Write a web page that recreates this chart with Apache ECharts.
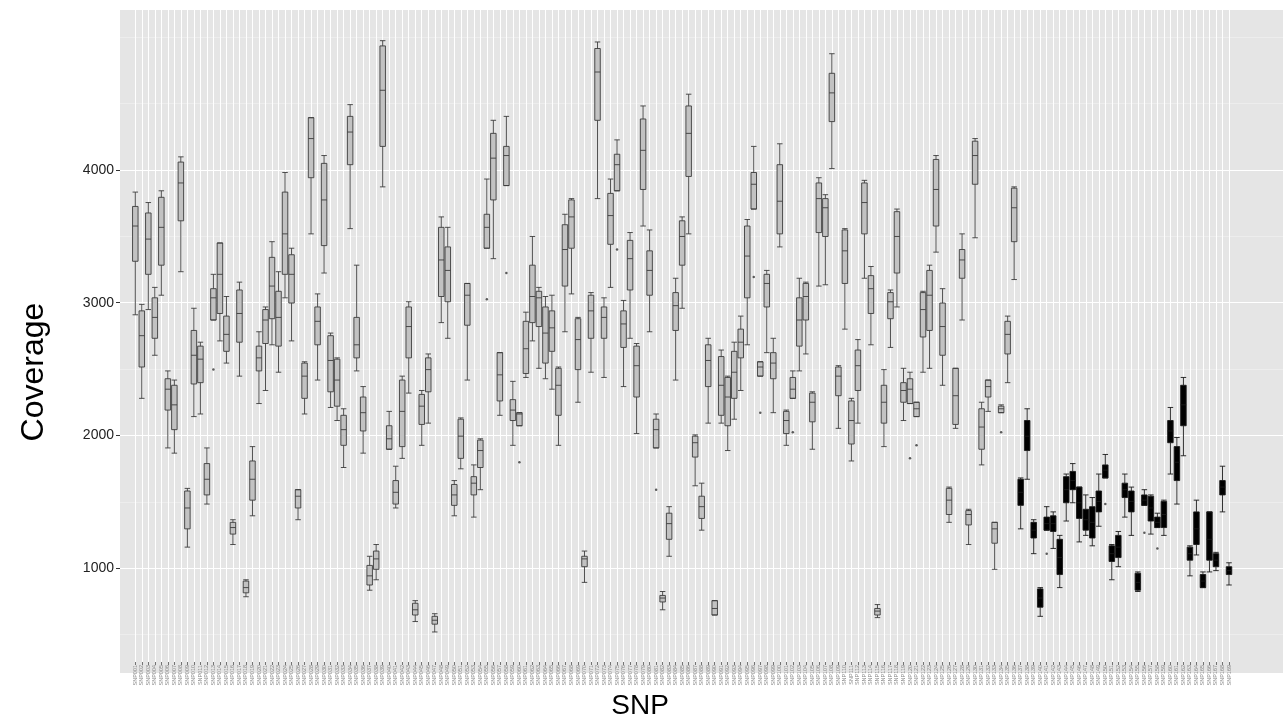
<!DOCTYPE html>
<html>
<head>
<meta charset="utf-8">
<title>Coverage per SNP</title>
<script src="https://cdn.jsdelivr.net/npm/echarts@6/dist/echarts.min.js"></script>
<style>
  html, body { margin: 0; padding: 0; background: #ffffff; }
  #chart { width: 1283px; height: 725px; }
</style>
</head>
<body>
<div id="chart"></div>
<script>
// tick labels under the x axis are unreadable in the source, so plain ids are used
const CATS = [];
for (let i = 1; i <= 169; i++) CATS.push("SNP" + String(i).padStart(3, "0"));

// five-number summary per SNP (whisker low, Q1, median, Q3, whisker high)
const LOW = [
  2870, 2230, 2910, 2560, 3020, 1850, 1810, 3200, 1090, 2090,
  2110, 1420, 2830, 2670, 2500, 1110, 2400, 710, 1330, 2190,
  2290, 2640, 2430, 3000, 2670, 1300, 2110, 3490, 2370, 3190,
  2160, 2060, 1700, 3530, 2440, 1810, 760, 840, 3850, 1840,
  1390, 1770, 2270, 520, 1870, 2040, 440, 2810, 2690, 1330,
  1690, 2370, 1320, 1530, 3380, 3300, 2100, 3860, 1870, 2020,
  2390, 2670, 2460, 2380, 2300, 1870, 2740, 3030, 2200, 820,
  2430, 3760, 2390, 3080, 3820, 2320, 2690, 1960, 3550, 2740,
  1850, 610, 1020, 2370, 2920, 3490, 1560, 1220, 2040, 570,
  2040, 1830, 2070, 2290, 2640, 3680, 2400, 2580, 2120, 3390,
  1870, 2230, 2440, 2570, 1840, 3090, 3100, 3990, 2000, 2760,
  1750, 2040, 3150, 2640, 550, 1860, 2620, 2930, 2060, 2190,
  2090, 2430, 2460, 3350, 2330, 1280, 2000, 2830, 1110, 3460,
  1720, 2130, 920, 2120, 2350, 3140, 1230, 1610, 1040, 560,
  1220, 1080, 780, 1290, 1430, 1130, 1180, 1100, 1250, 1620,
  840, 940, 1320, 1180, 750, 1410, 1190, 1240, 1180, 1650,
  1420, 1790, 870, 1030, 780, 900, 910, 1360, 800
];
const Q1 = [
  3280, 2470, 3180, 2690, 3250, 2140, 1990, 3590, 1230, 2340,
  2350, 1490, 2830, 2880, 2590, 1190, 2660, 740, 1450, 2440,
  2650, 2840, 2630, 3180, 2960, 1390, 2230, 3920, 2640, 3400,
  2280, 2170, 1870, 4020, 2540, 1980, 800, 920, 4160, 1840,
  1420, 1860, 2540, 570, 2030, 2280, 500, 3010, 2970, 1410,
  1770, 2790, 1490, 1700, 3380, 3750, 2210, 3860, 2060, 2020,
  2420, 2810, 2780, 2500, 2590, 2100, 3090, 3380, 2450, 940,
  2690, 4360, 2690, 3410, 3820, 2620, 3060, 2240, 3830, 3020,
  1850, 670, 1150, 2750, 3250, 3930, 1780, 1310, 2320, 570,
  2100, 2020, 2230, 2540, 3000, 3680, 2400, 2930, 2380, 3490,
  1960, 2230, 2630, 2830, 2050, 3500, 3470, 4350, 2250, 3110,
  1880, 2290, 3490, 2880, 570, 2040, 2840, 3190, 2200, 2190,
  2090, 2700, 2750, 3550, 2560, 1340, 2030, 3150, 1260, 3870,
  1840, 2240, 1120, 2120, 2570, 3430, 1410, 1830, 1160, 630,
  1220, 1210, 880, 1430, 1530, 1310, 1220, 1160, 1360, 1620,
  980, 1010, 1470, 1360, 760, 1410, 1290, 1240, 1240, 1890,
  1600, 2020, 990, 1110, 780, 990, 940, 1490, 880
];
const MED = [
  3550, 2710, 3450, 2850, 3540, 2300, 2180, 3880, 1390, 2560,
  2530, 1610, 3000, 3180, 2720, 1240, 2880, 780, 1610, 2540,
  2830, 3090, 2850, 3490, 3180, 1480, 2400, 4220, 2820, 3750,
  2520, 2370, 1990, 4270, 2640, 2120, 870, 1000, 4590, 1920,
  1510, 2130, 2780, 610, 2170, 2450, 530, 3290, 3210, 1490,
  1940, 3020, 1580, 1830, 3540, 4070, 2410, 4090, 2140, 2110,
  2610, 3010, 3000, 2730, 2770, 2330, 3370, 3620, 2680, 1000,
  2900, 4730, 2850, 3630, 4020, 2800, 3300, 2480, 4130, 3210,
  1990, 700, 1270, 2940, 3470, 4260, 1890, 1400, 2520, 620,
  2330, 2240, 2430, 2660, 3320, 3870, 2470, 3110, 2500, 3740,
  2060, 2300, 2830, 3010, 2200, 3760, 3690, 4570, 2400, 3360,
  2060, 2480, 3730, 3070, 600, 2200, 2970, 3470, 2290, 2300,
  2150, 2910, 3020, 3830, 2780, 1450, 2250, 3290, 1340, 4090,
  2010, 2320, 1230, 2150, 2720, 3690, 1510, 1940, 1220, 700,
  1270, 1270, 1010, 1530, 1600, 1430, 1300, 1280, 1440, 1680,
  1040, 1090, 1530, 1440, 820, 1450, 1390, 1280, 1340, 1980,
  1740, 2180, 1040, 1230, 830, 1150, 990, 1550, 910
];
const Q3 = [
  3700, 2900, 3650, 3000, 3770, 2380, 2330, 4040, 1520, 2750,
  2630, 1730, 3070, 3420, 2860, 1280, 3060, 830, 1750, 2630,
  2910, 3310, 3050, 3810, 3330, 1530, 2500, 4380, 2930, 4030,
  2710, 2530, 2100, 4390, 2850, 2240, 950, 1060, 4930, 2020,
  1600, 2370, 2930, 660, 2260, 2540, 560, 3540, 3390, 1570,
  2070, 3110, 1630, 1910, 3640, 4260, 2580, 4160, 2220, 2120,
  2820, 3250, 3050, 2930, 2900, 2460, 3560, 3750, 2840, 1020,
  3020, 4910, 2930, 3800, 4100, 2900, 3440, 2630, 4370, 3360,
  2070, 720, 1350, 3040, 3590, 4470, 1940, 1480, 2640, 680,
  2550, 2390, 2590, 2760, 3550, 3960, 2510, 3180, 2580, 4020,
  2130, 2390, 3000, 3110, 2270, 3880, 3760, 4720, 2470, 3520,
  2210, 2600, 3880, 3170, 620, 2330, 3040, 3660, 2350, 2380,
  2200, 3040, 3210, 4060, 2960, 1540, 2460, 3370, 1370, 4200,
  2150, 2370, 1280, 2170, 2820, 3840, 1610, 2060, 1280, 770,
  1320, 1330, 1150, 1630, 1670, 1550, 1380, 1400, 1520, 1720,
  1100, 1180, 1580, 1520, 890, 1490, 1480, 1320, 1440, 2060,
  1860, 2330, 1090, 1360, 880, 1360, 1040, 1600, 940
];
const HIGH = [
  3810, 2950, 3730, 3080, 3820, 2440, 2370, 4080, 1540, 2920,
  2660, 1850, 3180, 3420, 3010, 1300, 3120, 840, 1860, 2740,
  2930, 3430, 3200, 3960, 3380, 1530, 2510, 4380, 3030, 4090,
  2730, 2540, 2150, 4480, 3250, 2320, 1020, 1110, 4970, 2130,
  1710, 2400, 2970, 680, 2290, 2570, 580, 3620, 3540, 1600,
  2080, 3110, 1720, 1920, 3910, 4360, 2580, 4390, 2360, 2120,
  2890, 3470, 3080, 3010, 3020, 2470, 3640, 3760, 2850, 1060,
  3040, 4960, 3000, 3910, 4210, 2980, 3500, 2650, 4470, 3520,
  2110, 750, 1400, 3150, 3620, 4560, 1950, 1580, 2690, 680,
  2600, 2400, 2660, 2860, 3600, 4160, 2510, 3210, 2690, 4180,
  2140, 2440, 3150, 3120, 2280, 3920, 3790, 4870, 2480, 3530,
  2230, 2680, 3900, 3240, 650, 2450, 3060, 3680, 2460, 2430,
  2200, 3050, 3250, 4090, 3070, 1550, 2460, 3490, 1380, 4220,
  2200, 2370, 1280, 2180, 2860, 3850, 1620, 2150, 1300, 780,
  1400, 1360, 1180, 1650, 1730, 1550, 1490, 1470, 1650, 1800,
  1110, 1210, 1650, 1550, 900, 1530, 1490, 1350, 1450, 2160,
  1930, 2390, 1100, 1450, 900, 1360, 1050, 1710, 970
];

// outliers: SNP number (1-based) and value
const OUT_SNP = [13, 55, 58, 60, 75, 81, 96, 97, 102, 120, 121, 134, 141, 150, 156, 158];
const OUT_VAL = [2450, 2990, 3190, 1740, 3370, 1530, 3160, 2120, 1970, 1770, 1870, 1970, 1040, 1420, 1200, 1080];

// SNPs from this one on are drawn as black boxes
const FIRST_BLACK = 137;

const Y_MIN = 210;
const Y_MAX = 5205;
const Y_MAJOR = [1000, 2000, 3000, 4000];
const Y_MINOR = [500, 1500, 2500, 3500, 4500, 5000];

const boxData = CATS.map(function (c, i) {
  const item = { value: [LOW[i], Q1[i], MED[i], Q3[i], HIGH[i]] };
  if (i + 1 >= FIRST_BLACK) {
    item.itemStyle = { color: "#000000", borderColor: "#1a1a1a" };
  }
  return item;
});
const outData = OUT_SNP.map(function (s, i) { return [CATS[s - 1], OUT_VAL[i]]; });

const chart = echarts.init(document.getElementById("chart"));
chart.setOption({
  animation: false,
  textStyle: { fontFamily: "Liberation Sans, Arial, sans-serif" },
  grid: [
    // panel background, spans the full panel
    { left: 120, right: 0, top: 10, bottom: 52, show: true, backgroundColor: "#E5E5E5", borderWidth: 0 },
    // boxes: first and last category sit on the edges
    { left: 135.3, right: 54, top: 10, bottom: 52 }
  ],
  xAxis: [
    { gridIndex: 0, type: "value", min: 0, max: 1, show: false },
    {
      gridIndex: 1,
      type: "category",
      data: CATS,
      boundaryGap: false,
      name: "SNP",
      nameLocation: "middle",
      nameGap: 30,
      nameMoveOverlap: false,
      nameTextStyle: { fontSize: 28, color: "#000", padding: [0, 84, 0, 0] },
      axisLine: { show: false },
      axisTick: { show: true, interval: 0, length: 3, lineStyle: { color: "#555", width: 0.8 } },
      axisLabel: { interval: 0, rotate: 90, fontSize: 5.5, color: "#888", margin: 3 },
      splitLine: { show: true, interval: 0, lineStyle: { color: "#FFFFFF", width: 1 } }
    }
  ],
  yAxis: [
    {
      gridIndex: 0, type: "value", position: "left", min: Y_MIN, max: Y_MAX, splitNumber: 10,
      axisLine: { show: false },
      axisTick: { show: false, customValues: Y_MINOR },
      axisLabel: { show: false },
      splitLine: { show: true, lineStyle: { color: "#F2F2F2", width: 0.6 } }
    },
    {
      gridIndex: 0, type: "value", position: "left", min: Y_MIN, max: Y_MAX, splitNumber: 5,
      name: "Coverage",
      nameLocation: "middle",
      nameGap: 70,
      nameTextStyle: { fontSize: 32, color: "#000", padding: [0, 61, 0, 0] },
      axisLine: { show: false },
      axisTick: { show: true, length: 4, customValues: Y_MAJOR, lineStyle: { color: "#333" } },
      axisLabel: {
        customValues: Y_MAJOR, fontSize: 14, color: "#222", margin: 6,
        formatter: function (v) { return Y_MAJOR.indexOf(v) >= 0 ? String(v) : ""; }
      },
      splitLine: { show: true, lineStyle: { color: "#FFFFFF", width: 1.2 } }
    },
    { gridIndex: 1, type: "value", min: Y_MIN, max: Y_MAX, show: false }
  ],
  series: [
    {
      type: "boxplot",
      xAxisIndex: 1,
      yAxisIndex: 2,
      data: boxData,
      boxWidth: [5.5, 5.5],
      silent: true,
      itemStyle: { color: "#C2C2C2", borderColor: "#3C3C3C", borderWidth: 0.9 }
    },
    {
      type: "scatter",
      xAxisIndex: 1,
      yAxisIndex: 2,
      data: outData,
      symbolSize: 2.5,
      silent: true,
      itemStyle: { color: "#333333" }
    }
  ]
});
</script>
</body>
</html>
